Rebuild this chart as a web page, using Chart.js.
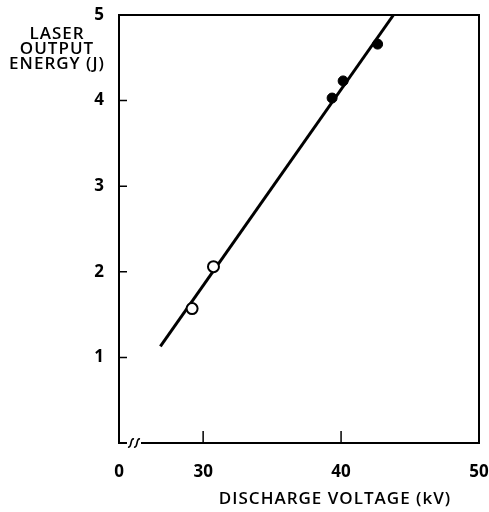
<!DOCTYPE html>
<html>
<head>
<meta charset="utf-8">
<script src="https://cdn.jsdelivr.net/npm/chart.js@4/dist/chart.umd.min.js"></script>
<style>
  html, body { margin: 0; padding: 0; background: #fff; overflow: hidden; }
  #wrap { width: 489px; height: 512px; }
</style>
</head>
<body>
<div id="wrap"><canvas id="chart"></canvas></div>
<script>
// --- data ---
const fitX = [26.9, 43.8];
const fitY = [1.13, 5.0];
const filledX = [39.35, 40.15, 42.65];
const filledY = [4.03, 4.23, 4.66];
const openX = [29.2, 30.75];
const openY = [1.57, 2.06];
const xTicks = [30, 40, 50];
const yTicks = [1, 2, 3, 4, 5];
const xBreakStart = 23.9; // left edge of the broken axis, labelled "0"

const pts = (xs, ys) => xs.map((x, i) => ({ x: x, y: ys[i] }));
const FONT = '"Open Sans", "DejaVu Sans", sans-serif';

// frame, inward ticks, axis break and titles
const decor = {
  id: 'decor',
  afterDraw(chart) {
    const { ctx, chartArea: a, scales } = chart;
    ctx.save();
    ctx.strokeStyle = '#000';
    ctx.lineWidth = 2;
    ctx.strokeRect(a.left, a.top, a.right - a.left, a.bottom - a.top);

    ctx.lineWidth = 1.5;
    ctx.beginPath();
    yTicks.slice(0, 4).forEach(v => {
      const y = scales.y.getPixelForValue(v);
      ctx.moveTo(a.left, y);
      ctx.lineTo(a.left + 8, y);
    });
    xTicks.slice(0, 2).forEach(v => {
      const x = scales.x.getPixelForValue(v);
      ctx.moveTo(x, a.bottom);
      ctx.lineTo(x, a.bottom - 12);
    });
    ctx.stroke();

    // break marks on the x axis
    const bx = a.left + 15;
    ctx.fillStyle = '#fff';
    ctx.fillRect(bx - 7, a.bottom - 2, 14, 4);
    ctx.lineWidth = 1.6;
    [bx - 3, bx + 3].forEach(sx => {
      ctx.beginPath();
      ctx.moveTo(sx - 3, a.bottom + 4);
      ctx.bezierCurveTo(sx + 1, a.bottom + 5, sx - 1, a.bottom - 5, sx + 3, a.bottom - 4);
      ctx.stroke();
    });

    ctx.fillStyle = '#000';
    ctx.font = '600 17px ' + FONT;
    ctx.letterSpacing = '1px';
    ctx.textAlign = 'center';
    ctx.textBaseline = 'middle';
    ['LASER', 'OUTPUT', 'ENERGY (J)'].forEach((t, i) => ctx.fillText(t, 57, 34 + i * 15));
    ctx.fillText('DISCHARGE VOLTAGE (kV)', 335, 499);
    ctx.restore();
  }
};

new Chart(document.getElementById('chart'), {
  type: 'scatter',
  data: {
    datasets: [
      {
        data: pts(fitX, fitY),
        showLine: true,
        borderColor: '#000',
        borderWidth: 3,
        pointRadius: 0,
        order: 2
      },
      {
        data: pts(filledX, filledY),
        backgroundColor: '#000',
        borderColor: '#000',
        pointRadius: 5,
        borderWidth: 1,
        order: 1
      },
      {
        data: pts(openX, openY),
        backgroundColor: '#fff',
        borderColor: '#000',
        pointRadius: 5.5,
        borderWidth: 2,
        order: 1
      }
    ]
  },
  options: {
    responsive: true,
    maintainAspectRatio: false,
    animation: false,
    layout: { padding: { top: 15, right: 10, left: 0, bottom: 0 } },
    plugins: { legend: { display: false }, tooltip: { enabled: false } },
    scales: {
      x: {
        type: 'linear',
        min: xBreakStart,
        max: 50,
        grid: { display: false, drawTicks: false },
        border: { display: false },
        afterBuildTicks: s => { s.ticks = [xBreakStart].concat(xTicks).map(v => ({ value: v })); },
        afterFit: s => { s.height = 69; s.paddingLeft = 0; s.paddingRight = 0; },
        ticks: {
          padding: 19,
          maxRotation: 0,
          autoSkip: false,
          color: '#000',
          font: { family: FONT, size: 17, weight: 'bold' },
          callback: v => (v === xBreakStart ? '0' : String(v))
        }
      },
      y: {
        min: 0,
        max: 5,
        grid: { display: false, drawTicks: false },
        border: { display: false },
        afterBuildTicks: s => { s.ticks = yTicks.map(v => ({ value: v })); },
        afterFit: s => { s.width = 119; s.paddingTop = 0; s.paddingBottom = 0; },
        ticks: {
          padding: 15,
          color: '#000',
          font: { family: FONT, size: 17, weight: 'bold' }
        }
      }
    }
  },
  plugins: [decor]
});
</script>
</body>
</html>
